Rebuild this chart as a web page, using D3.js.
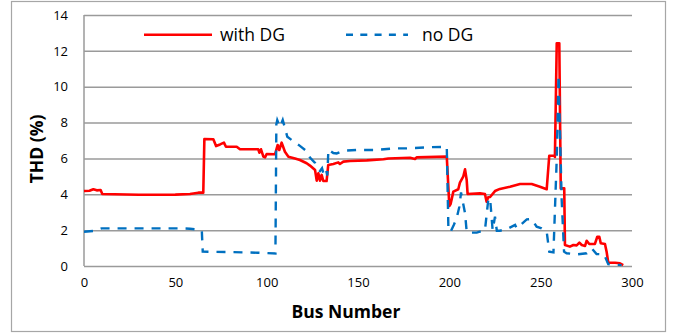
<!DOCTYPE html>
<html>
<head>
<meta charset="utf-8">
<script src="https://cdn.jsdelivr.net/npm/d3@7"></script>
<style>
  body { margin: 0; background: #fff; }
  svg text { font-family: "Open Sans", sans-serif; fill: #000; }
</style>
</head>
<body>
<script>
//Chart size
let fullSVGWidth = 684;
let fullSVGHeight = 333;

//Data
let seriesNames = ["with DG", "no DG"];
let xTicks = [0, 50, 100, 150, 200, 250, 300];
let yTicks = [0, 2, 4, 6, 8, 10, 12, 14];

let withDgBus = [0, 3, 5.1, 7, 9.1, 10, 30, 50, 58, 62.6, 65.3, 65.9, 70.8, 72.3, 74.5, 76.6, 77.7, 83.6, 85.4,
    95.4, 96, 96.9, 98.2, 99.1, 100, 104.6, 106, 106.9, 108.2, 110, 111.9, 115.5, 118.2, 121.9, 123.7,
    126.5, 127.4, 128.3, 129.2, 130.1, 131, 132.8, 133.7, 136.5, 139.2, 140.1, 142, 145.6, 154.8, 163.9,
    166.6, 178.5, 181.2, 182.1, 198.6, 200, 200.7, 202.2, 204.9, 205.8, 207.6, 208.6, 209.5, 210,
    216.8, 219.5, 220.4, 221.3, 222.3, 225, 227.7, 233.2, 238.7, 245.1, 249.6, 253.3, 254.7, 257.5,
    257.8, 258.8, 260.2, 261, 262.9, 263.3, 266, 267.9, 269.7, 271.2, 272.5, 274.3, 275.2, 276.6,
    279.7, 281, 282.1, 282.9, 285.2, 286.1, 287, 290.7, 293.4, 295.2];
let withDgThd = [4.18, 4.2, 4.28, 4.22, 4.24, 4.02, 3.97, 3.98, 4.02, 4.09, 4.09, 7.08, 7.07, 6.69, 6.78, 6.88, 6.65, 6.65, 6.51,
    6.51, 6.32, 6.51, 6.1, 6.06, 6.25, 6.23, 6.75, 6.47, 6.88, 6.37, 6.1, 6.0, 5.91, 5.73, 5.6,
    5.35, 4.76, 5.17, 4.76, 5.08, 4.74, 4.74, 5.63, 5.69, 5.78, 5.69, 5.82, 5.86, 5.89, 5.95,
    6.0, 6.04, 5.97, 6.06, 6.1, 3.35, 3.46, 4.15, 4.28, 4.65, 4.98, 5.39, 4.8, 4.02,
    4.05, 4.02, 3.59, 3.83, 3.85, 4.18, 4.3, 4.42, 4.57, 4.57, 4.42, 4.28, 6.15, 6.15,
    6.08, 12.42, 12.42, 4.33, 4.33, 1.17, 1.08, 1.17, 1.15, 1.3, 1.17, 1.12, 1.41, 1.23,
    1.23, 1.63, 1.63, 1.27, 1.23, 0.8, 0.18, 0.18, 0.15, 0.05];

let noDgBus = [0, 5, 9.7, 52, 58, 60.8, 62.6, 64.5, 65, 80, 95, 104.8, 105.3, 105.8, 107.3, 108.8, 110, 111.3,
    114, 118.2, 121.9, 123.7, 126.5, 128, 129.2, 130.3, 131.4, 132.6, 133.2, 133.8, 136.5, 138.3, 142,
    149.3, 160, 169.3, 176.7, 187.6, 198.6, 199.5, 200.7, 202.5, 204, 205.5, 206.4, 208.6, 209.5, 211.3,
    215, 219.5, 221.3, 222.3, 223.7, 225, 226, 227.7, 231.4, 236, 236.9, 242.4, 245, 247.8, 250.5,
    253.3, 254.7, 257, 258.8, 259.8, 261.5, 262.8, 264.2, 269.7, 275.2, 277.9, 280.6, 284.7, 287, 294.3];
let noDgThd = [1.91, 1.95, 2.1, 2.1, 2.08, 2.05, 1.97, 1.95, 0.8, 0.78, 0.74, 0.7, 7.9, 8.14, 7.75, 8.14, 7.7, 7.21,
    7.0, 6.7, 6.4, 6.05, 5.75, 5.4, 5.3, 5.45, 5.05, 5.3, 5.05, 6.5, 6.3, 6.28, 6.43,
    6.47, 6.47, 6.56, 6.56, 6.62, 6.65, 2.0, 1.91, 2.3, 2.66, 3.31, 4.1, 2.94, 1.91, 1.86,
    1.86, 2.0, 3.68, 3.78, 2.0, 2.75, 1.97, 1.97, 2.05, 2.29, 2.1, 2.6, 2.62, 2.19, 2.1,
    1.91, 0.8, 0.76, 6.0, 10.65, 3.7, 0.8, 0.71, 0.65, 0.71, 0.99, 0.67, 0.65, 0.1, 0.05];

let seriesColors = ["#ff0000", "#0070c0"];

let withDg = withDgBus.map(function(b, i) { return { bus: b, thd: withDgThd[i] }; });
let noDg = noDgBus.map(function(b, i) { return { bus: b, thd: noDgThd[i] }; });

//Scales
let xScale = d3.scaleLinear().domain([0, 300]).range([84, 632]);
let yScale = d3.scaleLinear().domain([0, 14]).range([266, 15]);

let svg = d3.select("body")
    .append("svg")
    .attr("width", fullSVGWidth)
    .attr("height", fullSVGHeight);

//outer chart border
svg.append("rect")
    .attr("x", 11.5)
    .attr("y", 1.5)
    .attr("width", 654)
    .attr("height", 330)
    .style("fill", "none")
    .style("stroke", "#a6a6a6")
    .style("stroke-width", 1.2);

//y axis with gridlines
let yAxis = svg.append("g")
    .attr("transform", "translate(84,0)")
    .call(d3.axisLeft(yScale)
        .tickValues(yTicks)
        .tickSize(-(632 - 84))
        .tickPadding(16));
yAxis.select(".domain").remove();
yAxis.selectAll("line")
    .style("stroke", "#9a9a9a")
    .style("stroke-width", 1.5);
yAxis.selectAll("text")
    .style("font-size", "13px")
    .style("font-family", "Open Sans");

//x axis
let xAxis = svg.append("g")
    .attr("transform", "translate(0,266)")
    .call(d3.axisBottom(xScale)
        .tickValues(xTicks)
        .tickSize(0)
        .tickPadding(12));
xAxis.select(".domain").remove();
xAxis.selectAll("text")
    .style("font-size", "13px")
    .style("font-family", "Open Sans");

//left axis line
svg.append("line")
    .attr("x1", 84).attr("x2", 84)
    .attr("y1", yScale(14)).attr("y2", yScale(0))
    .style("stroke", "#9a9a9a")
    .style("stroke-width", 1.5);

//axis titles
svg.append("text")
    .attr("x", 346)
    .attr("y", 318)
    .attr("text-anchor", "middle")
    .style("font-size", "17.5px")
    .style("font-weight", "bold")
    .text("Bus Number");

svg.append("text")
    .attr("transform", "translate(43,149) rotate(-90)")
    .attr("text-anchor", "middle")
    .style("font-size", "17.5px")
    .style("font-weight", "bold")
    .text("THD (%)");

//lines
let line = d3.line()
    .x(function(d) { return xScale(d.bus); })
    .y(function(d) { return yScale(d.thd); });

svg.append("path")
    .datum(withDg)
    .attr("d", line)
    .style("fill", "none")
    .style("stroke", seriesColors[0])
    .style("stroke-width", 2.6)
    .style("stroke-linejoin", "round");

svg.append("path")
    .datum(noDg)
    .attr("d", line)
    .style("fill", "none")
    .style("stroke", seriesColors[1])
    .style("stroke-width", 2.4)
    .style("stroke-dasharray", "9,8");

//legend
let legendItems = [
    { name: seriesNames[0], x1: 144, x2: 212, tx: 220, dash: null },
    { name: seriesNames[1], x1: 346, x2: 408, tx: 422, dash: "7,7.3" }
];

let legend = svg.selectAll(".legend")
    .data(legendItems)
    .enter()
    .append("g")
    .attr("class", "legend");

legend.append("line")
    .attr("x1", function(d) { return d.x1; })
    .attr("x2", function(d) { return d.x2; })
    .attr("y1", 34.7)
    .attr("y2", 34.7)
    .style("stroke", function(d, i) { return seriesColors[i]; })
    .style("stroke-width", 2.4)
    .style("stroke-dasharray", function(d) { return d.dash; });

legend.append("text")
    .attr("x", function(d) { return d.tx; })
    .attr("y", 40.5)
    .style("font-size", "17.5px")
    .text(function(d) { return d.name; });
</script>
</body>
</html>
